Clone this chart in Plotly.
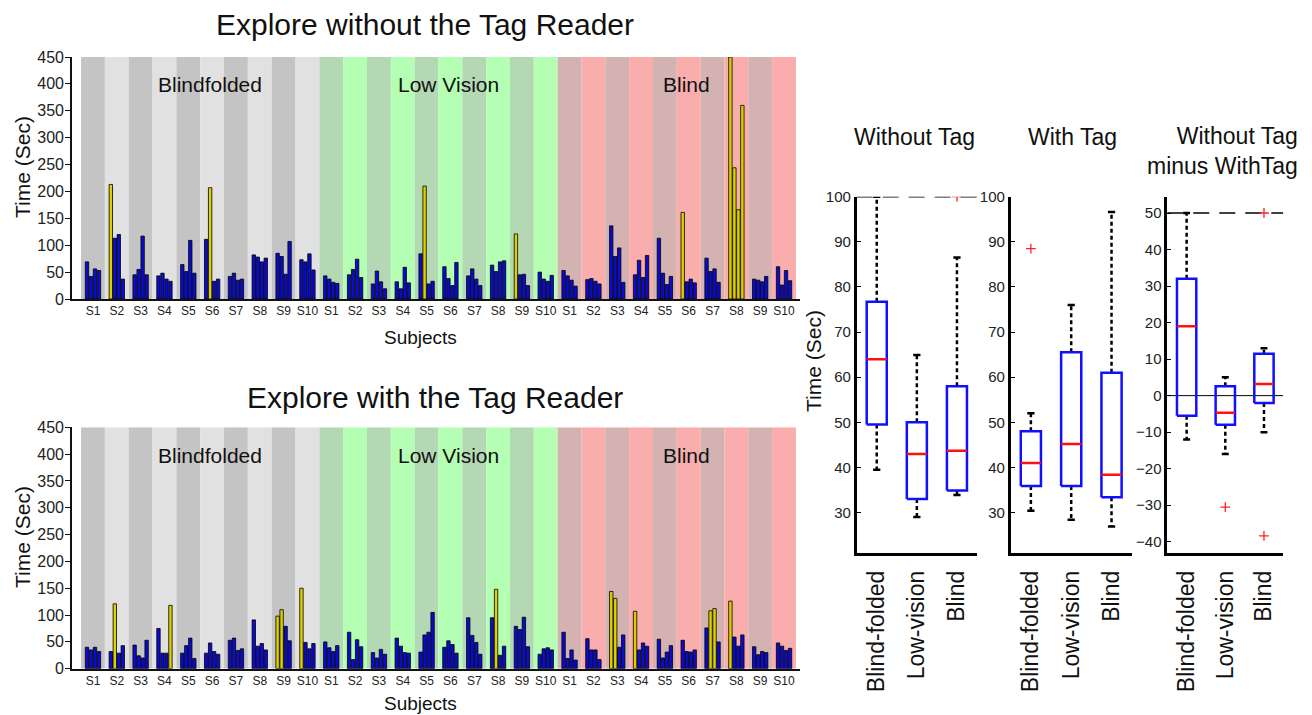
import plotly.graph_objects as go

# The page has an 8px body margin, so the figure is sized to fit the window.
OFF = 8
W, H = 1312 - OFF, 715 - OFF
FONT = "Liberation Sans, Arial, Helvetica, sans-serif"

groups = ["Blindfolded", "Low Vision", "Blind"]
subjects = ["S1", "S2", "S3", "S4", "S5", "S6", "S7", "S8", "S9", "S10"]

# ---- Explore without the Tag Reader: per subject, 4 trials (sec)
without_blindfolded = [[69, 42, 56, 53], [213, 113, 120, 37], [45, 55, 117, 45], [43, 48, 37, 33],
                       [64, 51, 109, 48], [111, 207, 33, 37], [42, 48, 35, 37], [82, 78, 69, 76],
                       [85, 79, 46, 107], [73, 69, 84, 54]]
without_lowvision = [[43, 37, 31, 29], [45, 55, 74, 40], [28, 52, 32, 19], [32, 19, 59, 30],
                     [84, 210, 28, 33], [60, 38, 25, 68], [43, 56, 37, 25], [63, 51, 69, 71],
                     [121, 45, 46, 25], [50, 37, 33, 44]]
without_blind = [[53, 43, 35, 24], [36, 38, 33, 28], [136, 79, 95, 31], [45, 72, 40, 81],
                 [113, 48, 27, 42], [161, 32, 37, 30], [76, 51, 56, 31], [450, 244, 166, 360],
                 [37, 35, 32, 42], [60, 26, 53, 34]]
# (group, subject, trial) of the yellow bars
without_yellow = [(0, 1, 0), (0, 5, 1), (1, 4, 1), (1, 8, 0),
                  (2, 5, 0), (2, 7, 0), (2, 7, 1), (2, 7, 2), (2, 7, 3)]

# ---- Explore with the Tag Reader
with_blindfolded = [[40, 35, 40, 32], [32, 121, 29, 43], [44, 24, 20, 53], [75, 29, 29, 118],
                    [29, 43, 57, 19], [29, 48, 32, 27], [53, 57, 34, 37], [91, 42, 47, 35],
                    [98, 110, 79, 52], [150, 49, 37, 47]]
with_lowvision = [[50, 39, 32, 43], [68, 17, 54, 41], [30, 20, 36, 27], [57, 42, 30, 29],
                  [31, 63, 68, 105], [40, 52, 45, 29], [95, 62, 49, 27], [95, 148, 25, 42],
                  [79, 73, 96, 41], [27, 37, 39, 35]]
with_blind = [[68, 19, 35, 16], [56, 35, 35, 17], [144, 131, 40, 63], [107, 35, 48, 42],
              [55, 20, 31, 43], [53, 32, 31, 35], [76, 108, 112, 50], [126, 59, 42, 63],
              [41, 26, 32, 30], [48, 42, 34, 38]]
with_yellow = [(0, 1, 1), (0, 3, 3), (0, 8, 0), (0, 8, 1), (0, 9, 0), (1, 7, 1),
               (2, 2, 0), (2, 2, 1), (2, 3, 0), (2, 6, 1), (2, 6, 2), (2, 7, 0)]

bar_yticks = [0, 50, 100, 150, 200, 250, 300, 350, 400, 450]

# ---- Box plot statistics
box_categories = ["Blind-folded", "Low-vision", "Blind"]
wo_q1 = [49.5, 33.0, 34.9]
wo_med = [64.0, 43.0, 43.7]
wo_q3 = [76.7, 50.0, 58.0]
wo_lo = [39.5, 29.0, 33.9]
wo_hi = [100.0, 64.9, 86.5]
wo_out = [[], [], [100.0]]

wt_q1 = [35.9, 35.9, 33.4]
wt_med = [41.0, 45.2, 38.4]
wt_q3 = [48.0, 65.5, 61.0]
wt_lo = [30.4, 28.4, 26.9]
wt_hi = [52.0, 76.0, 96.6]
wt_out = [[88.5], [], []]

df_q1 = [-5.5, -8.0, -2.0]
df_med = [19.0, -4.7, 3.2]
df_q3 = [32.0, 2.6, 11.5]
df_lo = [-12.0, -16.0, -10.0]
df_hi = [50.0, 5.0, 13.0]
df_out = [[], [-30.5], [50.0, -38.4]]

time_cap = 100
diff_cap = 50

BLUE = "#0b0bd0"
YELLOW = "#ddd000"
band_colors = {"Blindfolded": ("#c4c4c4", "#e1e1e1"),
               "Low Vision": ("#b4d8b4", "#b4ffb4"),
               "Blind": ("#d4b2b2", "#f9adad")}


def px(p):
    return (p - OFF) / W


def py(p):
    return 1 - (p - OFF) / H


fig = go.Figure()
shapes = []
annotations = []


def add_bar_panel(data_groups, yellow, xa, ya):
    for t in range(4):
        xv, yv, cols = [], [], []
        for g, grp in enumerate(data_groups):
            for s, vals in enumerate(grp):
                xv.append(g * 10 + s + 1)
                yv.append(vals[t])
                cols.append(YELLOW if (g, s, t) in yellow else BLUE)
        fig.add_trace(go.Bar(x=xv, y=yv, xaxis=xa, yaxis=ya, showlegend=False,
                             marker=dict(color=cols, line=dict(color="black", width=0.8)),
                             hoverinfo="x+y"))
    for g, name in enumerate(groups):
        dark, light = band_colors[name]
        for s in range(10):
            c = g * 10 + s + 1
            shapes.append(dict(type="rect", xref=xa, yref=ya, x0=c - 0.5, x1=c + 0.5,
                               y0=0, y1=max(bar_yticks), fillcolor=dark if s % 2 == 0 else light,
                               line=dict(width=0), layer="below"))
        annotations.append(dict(xref=xa, yref=ya, x=g * 10 + 5.5 + 0.4, y=398, text=name,
                                showarrow=False, font=dict(size=21, color="#111", family=FONT)))


add_bar_panel([without_blindfolded, without_lowvision, without_blind], without_yellow, "x", "y")
add_bar_panel([with_blindfolded, with_lowvision, with_blind], with_yellow, "x2", "y2")


def add_box_panel(q1, med, q3, lo, hi, outs, xa, ya):
    half, cap = 0.25, 0.09
    wx, wy, cx, cy, bx, by, mx, my, ox, oy = [], [], [], [], [], [], [], [], [], []
    for i in range(len(q1)):
        p = i + 1
        wx += [p, p, None, p, p, None]
        wy += [q3[i], hi[i], None, q1[i], lo[i], None]
        cx += [p - cap, p + cap, None, p - cap, p + cap, None]
        cy += [hi[i], hi[i], None, lo[i], lo[i], None]
        bx += [p - half, p + half, p + half, p - half, p - half, None]
        by += [q1[i], q1[i], q3[i], q3[i], q1[i], None]
        mx += [p - half, p + half, None]
        my += [med[i], med[i], None]
        for o in outs[i]:
            ox.append(p)
            oy.append(o)
    common = dict(xaxis=xa, yaxis=ya, showlegend=False, mode="lines", hoverinfo="skip")
    fig.add_trace(go.Scatter(x=wx, y=wy, line=dict(color="black", width=2.5, dash="4px,3px"), **common))
    fig.add_trace(go.Scatter(x=cx, y=cy, line=dict(color="black", width=2.5), **common))
    fig.add_trace(go.Scatter(x=bx, y=by, line=dict(color="#1010ff", width=2.5), **common))
    fig.add_trace(go.Scatter(x=mx, y=my, line=dict(color="#ff1010", width=2.5), **common))
    if ox:
        fig.add_trace(go.Scatter(x=ox, y=oy, xaxis=xa, yaxis=ya, mode="markers", showlegend=False,
                                 marker=dict(symbol="cross-thin", size=7,
                                             line=dict(color="#ff2020", width=1.3))))


def add_hline(yv, xa, ya, dash, width):
    fig.add_trace(go.Scatter(x=[0.5, 3.5], y=[yv, yv], xaxis=xa, yaxis=ya, mode="lines",
                             showlegend=False, hoverinfo="skip",
                             line=dict(color="black", width=width, dash=dash)))


add_hline(time_cap, "x3", "y3", "16px,10px", 1.4)
add_box_panel(wo_q1, wo_med, wo_q3, wo_lo, wo_hi, wo_out, "x3", "y3")
add_box_panel(wt_q1, wt_med, wt_q3, wt_lo, wt_hi, wt_out, "x4", "y4")
add_hline(diff_cap, "x5", "y5", "16px,10px", 1.4)
add_hline(0, "x5", "y5", "solid", 1.0)
add_box_panel(df_q1, df_med, df_q3, df_lo, df_hi, df_out, "x5", "y5")

# ---- axes
tickvals = list(range(1, 31))
ticktext = subjects * 3
bar_x = dict(range=[0.12, 30.67], tickvals=tickvals, ticktext=ticktext, showline=True,
             linecolor="#111", linewidth=1.6, ticks="", showgrid=False, zeroline=False,
             tickfont=dict(size=12, color="#222", family=FONT), fixedrange=True, automargin=False)
bar_y = dict(range=[0, 450], tickvals=bar_yticks, showline=True, linecolor="#111", linewidth=1.6,
             ticks="outside", ticklen=5, tickcolor="#111", showgrid=False, zeroline=False,
             ticklabelstandoff=-2,
             tickfont=dict(size=16, color="#222", family=FONT), fixedrange=True, automargin=False)

box_x = dict(range=[0.5, 3.5], tickvals=[1, 2, 3], ticktext=box_categories, tickangle=-90,
             showline=True, linecolor="black", linewidth=2.6, ticks="", showgrid=False,
             zeroline=False, tickfont=dict(size=23, color="#111", family=FONT),
             ticklabelstandoff=6, fixedrange=True, automargin=False)
box_y = dict(showline=True, linecolor="black", linewidth=2.6, ticks="inside", ticklen=4,
             tickcolor="black", showgrid=False, zeroline=False,
             tickfont=dict(size=15, color="#222", family=FONT), fixedrange=True, automargin=False)

top_dom_y = [py(299), py(57)]
bot_dom_y = [py(668.7), py(427.3)]
bar_dom_x = [px(72), px(800)]
box_dom_y = [py(552.7), py(196.7)]

layout = dict(
    width=W, height=H, margin=dict(l=0, r=0, t=0, b=0, autoexpand=False),
    paper_bgcolor="white", plot_bgcolor="rgba(0,0,0,0)",
    barmode="group", bargap=0.33, bargroupgap=0.15,
    font=dict(family=FONT, color="#111"),
    xaxis=dict(bar_x, domain=bar_dom_x, anchor="y"),
    yaxis=dict(bar_y, domain=top_dom_y, anchor="x"),
    xaxis2=dict(bar_x, domain=bar_dom_x, anchor="y2"),
    yaxis2=dict(bar_y, domain=bot_dom_y, anchor="x2"),
    xaxis3=dict(box_x, domain=[px(856.7), px(977)], anchor="y3"),
    yaxis3=dict(box_y, domain=box_dom_y, anchor="x3", range=[21.1, 100],
                tickvals=[30, 40, 50, 60, 70, 80, 90, 100]),
    xaxis4=dict(box_x, domain=[px(1010.7), px(1131.7)], anchor="y4"),
    yaxis4=dict(box_y, domain=box_dom_y, anchor="x4", range=[21.1, 100],
                tickvals=[30, 40, 50, 60, 70, 80, 90, 100]),
    xaxis5=dict(box_x, domain=[px(1167.3), px(1283.3)], anchor="y5"),
    yaxis5=dict(box_y, domain=[py(552.7), py(197.3)], anchor="x5", range=[-43, 54.3],
                tickvals=[-40, -30, -20, -10, 0, 10, 20, 30, 40, 50]),
)


def txt(x, y, text, size, angle=0, xanchor="center", align="center"):
    annotations.append(dict(xref="paper", yref="paper", x=px(x), y=py(y), text=text,
                            showarrow=False, textangle=angle, xanchor=xanchor, yanchor="middle",
                            align=align, font=dict(size=size, color="#111", family=FONT)))


txt(425, 24, "Explore without the Tag Reader", 30)
txt(435, 397, "Explore with the Tag Reader", 30)
txt(22, 167, "Time (Sec)", 21, angle=-90)
txt(22, 537, "Time (Sec)", 21, angle=-90)
txt(420, 337, "Subjects", 19)
txt(420, 703, "Subjects", 19)
txt(813, 361, "Time (Sec)", 21, angle=-90)
txt(914, 137, "Without Tag", 23)
txt(1072, 137, "With Tag", 23)
txt(1300, 151, "Without Tag<br>minus WithTag", 23, xanchor="right", align="right")

layout["shapes"] = shapes
layout["annotations"] = annotations
fig.update_layout(**layout)
fig.write_html("out.html")
